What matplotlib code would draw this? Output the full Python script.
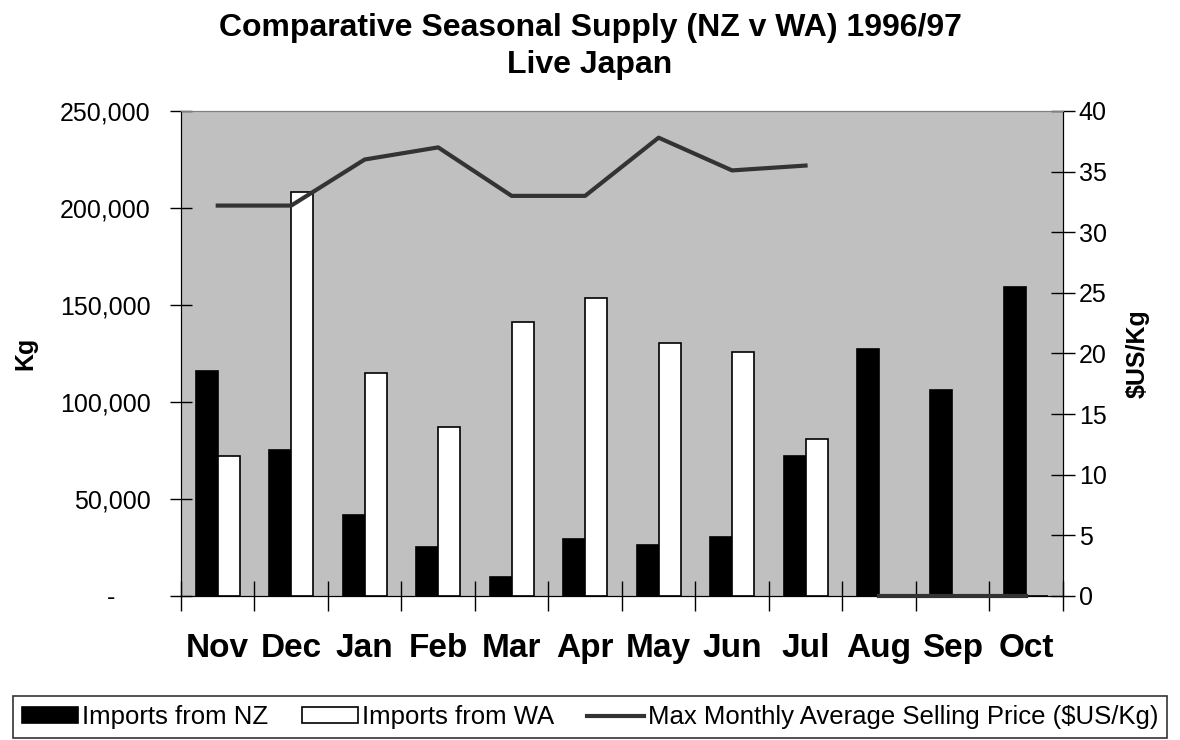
"""Comparative seasonal supply NZ v WA 1996/97 - Live Japan"""

import numpy as np
import matplotlib
matplotlib.use("Agg")
import matplotlib.pyplot as plt
import matplotlib.ticker as mticker

plt.rcParams["font.family"] = ["Liberation Sans", "DejaVu Sans"]

months = ["Nov", "Dec", "Jan", "Feb", "Mar", "Apr", "May", "Jun", "Jul", "Aug", "Sep", "Oct"]
imports_nz = [116000, 75000, 42000, 25500, 9800, 29500, 26500, 30500, 72000, 127500, 106000, 159500]
imports_wa = [72000, 208500, 115000, 87000, 141000, 153500, 130500, 126000, 81000, 0, 0, 0]
price = [32.2, 32.2, 36.0, 37.0, 33.0, 33.0, 37.8, 35.1, 35.5, 0, 0, 0]
n_priced = 9  # Nov-Jul line is broken from the Aug-Oct part

x = np.arange(len(months))

fig = plt.figure(figsize=(11.8, 7.4), dpi=100)
ax1 = fig.add_axes([0.1534, 0.1946, 0.7472, 0.6554])
ax1.set_facecolor("#C0C0C0")

bw = 0.3
ax1.bar(x - bw / 2, imports_nz, bw, color="black", edgecolor="black", linewidth=1.2,
        label="Imports from NZ", zorder=2)
ax1.bar(x + bw / 2, imports_wa, bw, color="white", edgecolor="black", linewidth=1.2,
        label="Imports from WA", zorder=2)

ax1.set_xlim(-0.5, len(months) - 0.5)
ax1.set_ylim(0, 250000)
ax1.yaxis.set_major_locator(mticker.MultipleLocator(50000))
ax1.yaxis.set_major_formatter(mticker.FuncFormatter(
    lambda v, p: "-     " if v == 0 else f"{int(v):,}"))
ax1.tick_params(axis="y", direction="inout", length=16, width=1, labelsize=18, pad=14)

ax1.xaxis.set_major_locator(mticker.FixedLocator(np.arange(-0.5, len(months), 1.0)))
ax1.xaxis.set_major_formatter(mticker.NullFormatter())
ax1.xaxis.set_minor_locator(mticker.FixedLocator(x))
ax1.xaxis.set_minor_formatter(mticker.FixedFormatter(months))
ax1.tick_params(axis="x", which="major", direction="inout", length=21, width=1)
ax1.tick_params(axis="x", which="minor", length=0, labelsize=24, pad=27)
for lab in ax1.get_xticklabels(minor=True):
    lab.set_fontweight("bold")

ax1.set_ylabel("Kg", fontsize=18, fontweight="bold", labelpad=16)
ax1.spines["top"].set_color("#808080")

ax2 = ax1.twinx()
ax2.plot(x[:n_priced], price[:n_priced], color="#333333", lw=3,
         label="Max Monthly Average Selling Price ($US/Kg)", zorder=3)
ax2.plot(x[n_priced:], price[n_priced:], color="#333333", lw=3, zorder=3, clip_on=False)
ax2.set_ylim(0, 40)
ax2.yaxis.set_major_locator(mticker.MultipleLocator(5))
ax2.tick_params(axis="y", direction="inout", length=17, width=1, labelsize=18, pad=3)
ax2.set_ylabel("$US/Kg", fontsize=18, fontweight="bold", labelpad=14)
ax2.spines["top"].set_color("#808080")

fig.text(0.5, 0.937, "Comparative Seasonal Supply (NZ v WA) 1996/97\nLive Japan",
         ha="center", va="center", fontsize=23, fontweight="bold", linespacing=1.3)

h1, l1 = ax1.get_legend_handles_labels()
h2, l2 = ax2.get_legend_handles_labels()
leg = fig.legend(h1 + h2, l1 + l2, loc="center", bbox_to_anchor=(0.5, 0.031), ncol=3,
                 fontsize=18.5, frameon=True, fancybox=False, edgecolor="black",
                 handlelength=2.2, handleheight=0.55, handletextpad=0.15,
                 columnspacing=1.3, borderpad=0.35, borderaxespad=0.3)
leg.get_frame().set_linewidth(1.2)

fig.savefig("out.png", dpi=100)
